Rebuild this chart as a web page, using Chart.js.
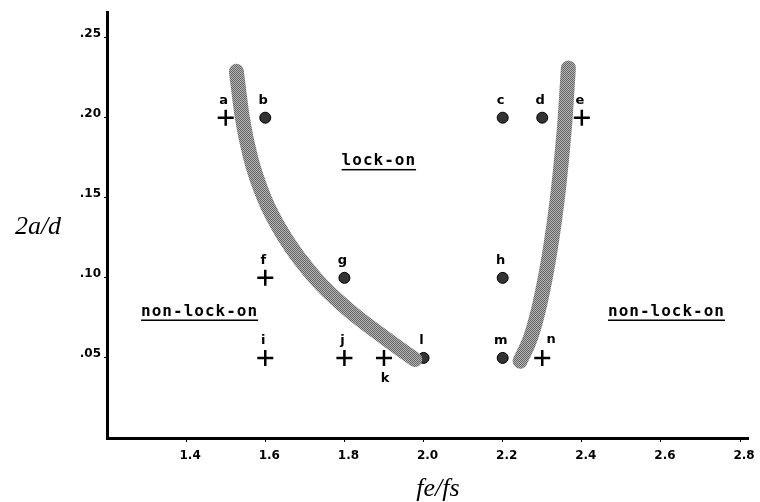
<!DOCTYPE html>
<html>
<head>
<meta charset="utf-8">
<script src="https://cdn.jsdelivr.net/npm/chart.js@4/dist/chart.umd.min.js"></script>
<style>
  body { margin: 0; background: #fff; }
  #wrap { width: 760px; height: 502px; }
</style>
</head>
<body>
<div id="wrap"><canvas id="lockchart" width="760" height="502"></canvas></div>
<script>
// measured points
const pointLetters = ['a', 'b', 'c', 'd', 'e', 'f', 'g', 'h', 'i', 'j', 'k', 'l', 'm', 'n'];
const pointX = [1.5, 1.6, 2.2, 2.3, 2.4, 1.6, 1.8, 2.2, 1.6, 1.8, 1.9, 2.0, 2.2, 2.3];
const pointY = [0.20, 0.20, 0.20, 0.20, 0.20, 0.10, 0.10, 0.10, 0.05, 0.05, 0.05, 0.05, 0.05, 0.05];
const pointLocked = [false, true, true, true, false, false, true, true, false, false, false, true, true, false];

// boundary curves
const leftBoundX = [1.527, 1.542, 1.563, 1.597, 1.650, 1.726, 1.810, 1.905, 1.978];
const leftBoundY = [0.229, 0.200, 0.175, 0.150, 0.125, 0.100, 0.080, 0.062, 0.049];
const rightBoundX = [2.244, 2.271, 2.296, 2.320, 2.338, 2.351, 2.358, 2.366];
const rightBoundY = [0.048, 0.063, 0.086, 0.1175, 0.149, 0.180, 0.200, 0.231];

const xTicks = [1.4, 1.6, 1.8, 2.0, 2.2, 2.4, 2.6, 2.8];
const yTicks = [0.05, 0.10, 0.15, 0.20, 0.25];

function toPoints(xs, ys) {
    return xs.map((x, i) => ({ x: x, y: ys[i] }));
}

// stippled grey for the thick boundary bands
function stipple() {
    const c = document.createElement('canvas');
    c.width = 2; c.height = 2;
    const g = c.getContext('2d');
    g.fillStyle = '#b4b4b4'; g.fillRect(0, 0, 2, 2);
    g.fillStyle = '#666'; g.fillRect(0, 0, 1, 1); g.fillRect(1, 1, 1, 1);
    return g.createPattern(c, 'repeat');
}

const lockedPts = [], openPts = [];
pointX.forEach((x, i) => {
    (pointLocked[i] ? lockedPts : openPts).push({ x: x, y: pointY[i] });
});

const textPlugin = {
    id: 'textPlugin',
    afterDatasetsDraw(chart) {
        const ctx = chart.ctx;
        const xs = chart.scales.x, ys = chart.scales.y;
        ctx.save();
        ctx.fillStyle = '#000';
        ctx.textAlign = 'center';
        ctx.textBaseline = 'middle';

        // point letters
        ctx.font = 'bold 13px "DejaVu Sans", sans-serif';
        pointLetters.forEach((l, i) => {
            const px = xs.getPixelForValue(pointX[i]);
            const py = ys.getPixelForValue(pointY[i]);
            if (l === 'k') ctx.fillText(l, px + 1, py + 21);
            else if (l === 'n') ctx.fillText(l, px + 9, py - 18);
            else ctx.fillText(l, px - 2, py - 17);
        });

        // region labels
        ctx.font = 'bold 16px "DejaVu Sans Mono", monospace';
        ctx.letterSpacing = '1px';
        const regions = [['lock-on', 1.887, 0.173], ['non-lock-on', 1.434, 0.079], ['non-lock-on', 2.614, 0.079]];
        regions.forEach(r => {
            const px = xs.getPixelForValue(r[1]);
            const py = ys.getPixelForValue(r[2]);
            ctx.fillText(r[0], px, py);
            const w = ctx.measureText(r[0]).width;
            ctx.fillRect(px - w / 2, py + 8, w, 1.5);
        });
        ctx.letterSpacing = '0px';

        // axis titles
        ctx.font = 'italic 26px "Liberation Serif", serif';
        ctx.fillText('2a/d', 38, 227);
        ctx.fillText('fe/fs', 438, 489);
        ctx.restore();
    }
};

const chart = new Chart(document.getElementById('lockchart').getContext('2d'), {
    type: 'scatter',
    data: {
        datasets: [{
            type: 'line',
            data: toPoints(leftBoundX, leftBoundY),
            borderColor: stipple(),
            borderWidth: 15,
            borderCapStyle: 'round',
            cubicInterpolationMode: 'monotone',
            pointRadius: 0,
            fill: false
        }, {
            type: 'line',
            data: toPoints(rightBoundX, rightBoundY),
            borderColor: stipple(),
            borderWidth: 15,
            borderCapStyle: 'round',
            cubicInterpolationMode: 'monotone',
            pointRadius: 0,
            fill: false
        }, {
            data: lockedPts,
            pointStyle: 'circle',
            pointRadius: 5.5,
            backgroundColor: '#333',
            borderColor: '#000',
            borderWidth: 1
        }, {
            data: openPts,
            pointStyle: 'cross',
            pointRadius: 8,
            borderColor: '#000',
            borderWidth: 2.5
        }]
    },
    options: {
        responsive: false,
        animation: false,
        layout: { padding: { top: 12, right: 12, left: 0, bottom: 0 } },
        plugins: { legend: { display: false }, tooltip: { enabled: false } },
        scales: {
            x: {
                type: 'linear',
                min: 1.2,
                max: 2.82,
                afterBuildTicks: axis => { axis.ticks = xTicks.map(v => ({ value: v })); },
                afterFit: axis => { axis.height = 64; },
                grid: { drawOnChartArea: false, color: '#000', tickLength: 4 },
                border: { color: '#000', width: 3 },
                ticks: {
                    color: '#000',
                    padding: 7,
                    labelOffset: 4,
                    font: { family: '"DejaVu Sans", sans-serif', size: 12, weight: 'bold' },
                    callback: v => v.toFixed(1)
                }
            },
            y: {
                type: 'linear',
                min: 0,
                max: 0.266,
                afterBuildTicks: axis => { axis.ticks = yTicks.map(v => ({ value: v })); },
                afterFit: axis => { axis.width = 107; },
                grid: { drawOnChartArea: false, color: '#000', tickLength: 3 },
                border: { color: '#000', width: 3 },
                ticks: {
                    color: '#000',
                    padding: 3,
                    labelOffset: -4,
                    font: { family: '"DejaVu Sans", sans-serif', size: 12, weight: 'bold' },
                    callback: v => v.toFixed(2).replace(/^0/, '')
                }
            }
        }
    },
    plugins: [textPlugin]
});
</script>
</body>
</html>
